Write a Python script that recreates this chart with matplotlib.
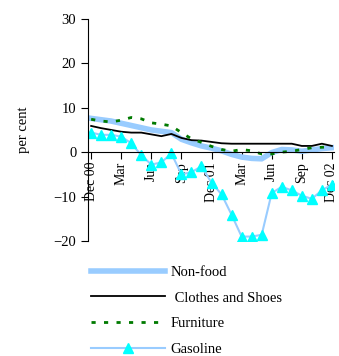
import numpy as np
import matplotlib
matplotlib.use("Agg")
import matplotlib.pyplot as plt

plt.rcParams['font.family'] = ['Liberation Serif', 'DejaVu Serif']

# monthly, Dec 2000 .. Dec 2002
months = np.arange(25)
tick_pos = [0, 3, 6, 9, 12, 15, 18, 21, 24]
tick_labels = ['Dec 00', 'Mar', 'Jun', 'Sep', 'Dec 01', 'Mar', 'Jun', 'Sep', 'Dec 02']

non_food = [7.6, 7.3, 7.0, 6.5, 6.0, 5.5, 5.0, 4.7, 4.4, 2.9, 2.1, 1.4, 0.9,
            0.3, -0.5, -1.1, -1.4, -1.5, -0.1, 0.6, 0.5, 0.2, 0.5, 0.8, 1.0]
clothes = [5.9, 5.4, 5.0, 4.6, 4.4, 4.4, 4.0, 3.6, 4.1, 3.2, 2.7, 2.6, 2.3,
           2.0, 1.9, 1.9, 1.9, 1.9, 1.9, 1.9, 1.9, 1.4, 1.4, 1.9, 1.4]
furniture = [7.4, 7.0, 6.8, 7.2, 7.8, 7.5, 6.6, 6.3, 5.9, 4.4, 3.0, 2.2, 1.3,
             0.6, 0.2, 0.6, 0.3, -0.4, -0.4, 0.0, 0.2, 0.6, 1.0, 1.1, 1.2]
gasoline = [4.4, 3.9, 3.9, 3.5, 2.0, -0.7, -2.8, -2.3, -0.3, -5.0, -4.5, -3.2, -6.9,
            -9.5, -14.1, -19.0, -19.0, -18.6, -9.2, -7.8, -8.6, -9.8, -10.5, -8.6, -7.3]

fig = plt.figure(figsize=(3.39, 3.56), dpi=100)
ax = fig.add_axes([0.26, 0.323, 0.725, 0.624])

ax.plot(months, non_food, color='#99ccff', lw=4, label='Non-food')
ax.plot(months, clothes, color='black', lw=1.3, label=' Clothes and Shoes')
ax.plot(months, furniture, color='#007a00', lw=2, linestyle=(0, (1.5, 3)), label='Furniture')
ax.plot(months, gasoline, color='#99ccff', lw=1.5, marker='^', markersize=6.5,
        markerfacecolor='cyan', markeredgecolor='cyan', label='Gasoline')

ax.set_xlim(-0.3, 24.2)
ax.set_ylim(-20, 30)
ax.set_yticks([-20, -10, 0, 10, 20, 30])
ax.tick_params(axis='y', labelsize=10.5, direction='out', length=5)
ax.set_xticks(tick_pos)
ax.set_xticklabels(tick_labels, fontsize=10.5)
ax.tick_params(axis='x', direction='out', length=5, pad=2, labelrotation=90)

ax.spines['top'].set_visible(False)
ax.spines['right'].set_visible(False)
ax.spines['bottom'].set_position(('data', 0))
ax.set_ylabel('per cent', fontsize=10.5, labelpad=17)

fig.legend(loc='upper left', bbox_to_anchor=(0.25, 0.27), frameon=False,
           fontsize=10.5, handlelength=5.1, labelspacing=0.85, numpoints=1,
           handletextpad=0.4, borderaxespad=0)

fig.savefig('out.png', dpi=100)
